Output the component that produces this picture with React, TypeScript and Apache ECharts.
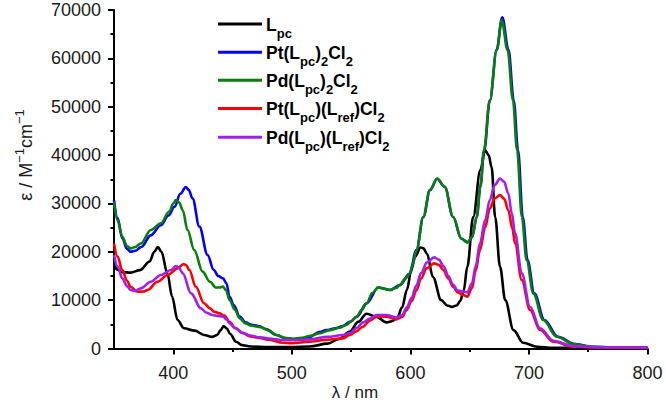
import React, { useEffect, useRef } from "react";
import * as echarts from "echarts";

const FONT = "'Liberation Sans', Arial, Helvetica, sans-serif";

const seriesNames = ["Lpc", "Pt(Lpc)2Cl2", "Pd(Lpc)2Cl2", "Pt(Lpc)(Lref)Cl2", "Pd(Lpc)(Lref)Cl2"];
const legendLabels = [
  "{m|L}{s|pc}",
  "{m|Pt(L}{s|pc}{m|)}{s|2}{m|Cl}{s|2}",
  "{m|Pd(L}{s|pc}{m|)}{s|2}{m|Cl}{s|2}",
  "{m|Pt(L}{s|pc}{m|)(L}{s|ref}{m|)Cl}{s|2}",
  "{m|Pd(L}{s|pc}{m|)(L}{s|ref}{m|)Cl}{s|2}",
];
const colors = ["#000000", "#0000ff", "#0b7d0b", "#ff0000", "#a020f0"];

const xMajorTicks = [400, 500, 600, 700, 800];
const xMinorTicks = [450, 550, 650, 750];

// [wavelength nm, epsilon M^-1 cm^-1]
const lpc = [
  [350, 17300], [353, 16300], [357, 15800], [364, 15700], [372, 16200], [380, 18000], [384, 20000],
  [387, 21000], [390, 20000], [395, 15600], [399, 10700], [403.6, 5900], [409, 4200], [418, 3700],
  [426, 2800], [433, 2400], [437, 2800], [440, 3800], [442.5, 4650], [445, 4200], [448, 3000],
  [453, 1400], [458, 700], [465, 400], [480, 300], [500, 300], [515, 400], [530, 1000], [540, 2000],
  [549, 3500], [556, 5500], [563, 7200], [571, 6600], [580, 5400], [585, 5700], [589, 6400],
  [593, 8500], [597, 12100], [601, 16500], [604, 19000], [608.6, 20900], [611, 20700], [614, 19600],
  [619, 14800], [626, 10000], [631, 8900], [635, 8600], [639, 8900], [642, 9800], [645, 12000],
  [648, 16900], [653, 27200], [659, 36900], [663, 41000], [666, 40000], [668.5, 37500],
  [671.5, 27200], [675.6, 16900], [680, 10000], [687, 3800], [695, 1200], [707, 370], [720, 150],
  [750, 100], [800, 80],
];

const ptLpc2 = [
  [350, 30700], [353, 27000], [357, 22800], [361, 20600], [364, 20000], [368, 20200], [373, 21000],
  [381, 23400], [389.5, 25500], [396, 27500], [401, 29300], [406, 32000], [410.6, 33400],
  [413, 32800], [416.3, 31000], [422, 25200], [429, 19300], [434, 16300], [438, 15000],
  [441.9, 14500], [444.8, 13500], [447.5, 10700], [451, 9000], [456, 6600], [461, 5400],
  [466, 4900], [473, 4600], [478, 4000], [487, 2800], [495, 2100], [501, 1900], [508, 2000],
  [515, 2400], [523, 3400], [529, 3800], [537, 4200], [543, 4650], [549, 5500], [555, 6600],
  [563, 9340], [573, 12600], [583, 12100], [591, 13100], [599.5, 15500], [605, 20350],
  [611, 27200], [616.5, 32750], [622.6, 35100], [629, 33400], [636, 27200], [643, 22700],
  [648.5, 22000], [652, 23000], [656, 27200], [659, 33500], [662.3, 41000], [667, 51300],
  [672.8, 61800], [677.5, 68500], [682.8, 61700], [687.2, 51300], [690.8, 41000], [694.8, 27200],
  [698.8, 18300], [704.5, 11400], [713, 5900], [724.5, 2400], [738.5, 930], [752.5, 370],
  [770, 200], [800, 150],
];

const pdLpc2 = [
  [350, 30300], [353, 26500], [357, 23100], [361, 21200], [364, 20700], [368, 21000],
  [372.6, 21700], [381, 24500], [389.5, 25900], [396.6, 28300], [400, 30000], [402.2, 30700],
  [405, 30200], [408, 28600], [412, 24500], [417.7, 20350], [424.7, 15900], [431, 13800],
  [436, 12600], [439, 12600], [442, 12800], [444.5, 12000], [447.5, 10000], [452, 8000],
  [456, 6240], [461, 5200], [466, 4700], [474, 4400], [480, 3800], [487, 2800], [494, 2200],
  [501, 2000], [508, 2200], [515, 2600], [523, 3100], [532, 3800], [540, 4300], [546, 4860],
  [550, 5600], [554.6, 6570], [559, 8000], [563, 9340], [568, 11500], [572.8, 12640],
  [577, 12400], [582.7, 12100], [588, 12500], [591, 13100], [596, 14500], [599.5, 15500],
  [602, 17500], [605.2, 20350], [610.8, 27230], [616.5, 32750], [622.6, 35160], [629, 33430],
  [636, 27230], [643, 22760], [648, 21900], [652, 23000], [656, 27230], [659, 33500], [662, 41000],
  [667, 51340], [672.8, 61670], [677, 67870], [682, 61700], [686.5, 51340], [690, 41000],
  [694, 27230], [698, 18280], [703.7, 11400], [712, 5890], [723.5, 2440], [737.5, 930],
  [751.6, 370], [770, 200], [800, 150],
];

const ptLpcLref = [
  [350, 21700], [353, 19000], [357, 16200], [361, 14000], [364, 12770], [369.8, 11730],
  [375, 11800], [378.3, 12090], [386.7, 13800], [395.2, 15190], [403.6, 16570], [408.7, 17460],
  [411, 17200], [413.5, 16220], [419, 12770], [426, 9340], [431, 8300], [434.6, 7600],
  [439, 7270], [443, 6800], [447.5, 5540], [452, 4300], [458.8, 3140], [465, 2500],
  [472.9, 2200], [480, 1800], [492.6, 1200], [500, 1100], [515, 1400], [530, 1800], [543, 2100],
  [549, 2790], [554, 3500], [560, 4500], [566, 5800], [571.5, 6570], [580, 6570], [588, 6030],
  [593, 6500], [596.8, 7950], [601, 9800], [605.2, 12090], [609, 14500], [613.7, 16570],
  [620, 17600], [624, 17300], [627.8, 16220], [632, 14500], [636, 12770], [640, 11600],
  [644.6, 11050], [648, 10700], [652, 12500], [655, 16000], [658.7, 20350], [663, 25000],
  [667, 28960], [671, 31000], [675.6, 31710], [679, 31000], [682.6, 28610], [686, 24800],
  [688.3, 21730], [693.9, 14150], [700.9, 7950], [709.4, 3820], [720.6, 1400], [737.5, 370],
  [760, 200], [800, 150],
];

const pdLpcLref = [
  [350, 19320], [353, 17000], [357, 14500], [361, 12900], [364, 12090], [368, 11900],
  [372.6, 12440], [381, 13800], [389.5, 15190], [398, 16220], [402.2, 17050], [405, 16600],
  [408, 15540], [415, 11400], [423.3, 8300], [428, 7400], [433, 6920], [437, 6750], [442, 6570],
  [445, 6000], [447.5, 5200], [452, 4200], [458.8, 3270], [465, 2700], [473, 2300], [483, 2000],
  [493, 1750], [503, 1700], [515, 1890], [530, 2400], [543, 2800], [549, 3200], [555, 4300],
  [560, 5400], [566, 6200], [571.5, 6920], [580, 6920], [588, 6400], [593, 6900], [597, 8500],
  [601, 10500], [605, 13000], [609, 15600], [614, 17800], [620, 18840], [624, 18400], [628, 17000],
  [632, 15000], [636, 13200], [640, 12000], [644.6, 11740], [648, 11600], [652, 13500],
  [655, 17000], [658.7, 21730], [663, 26500], [667, 30680], [671, 33800], [675.6, 35160],
  [679, 34500], [682.6, 32060], [685.5, 28000], [688.3, 23800], [693.9, 15540], [700.9, 8640],
  [709.4, 4170], [720.6, 1600], [737.5, 500], [760, 250], [800, 150],
];

const allData = [lpc, ptLpc2, pdLpc2, ptLpcLref, pdLpcLref];

export default function App() {
  const ref = useRef<HTMLDivElement>(null);
  useEffect(() => {
    if (!ref.current) return;
    const chart = echarts.init(ref.current, null, { renderer: "svg" });
    const legendY = [24, 52.3, 80.3, 108.5, 137.3];
    const legendGraphics: any[] = [];
    legendY.forEach((y, i) => {
      legendGraphics.push({
        type: "line",
        shape: { x1: 218, y1: y, x2: 262, y2: y },
        style: { stroke: colors[i], lineWidth: 3 },
        z: 100,
      });
      legendGraphics.push({
        type: "text",
        x: 266,
        y: y + 3.75,
        z: 100,
        style: {
          text: legendLabels[i],
          align: "left",
          verticalAlign: "middle",
          fill: "#000",
          rich: {
            m: { fontFamily: FONT, fontWeight: "bold", fontSize: 17.5, lineHeight: 24, verticalAlign: "top", fill: "#000" },
            s: { fontFamily: FONT, fontWeight: "bold", fontSize: 13, lineHeight: 14, verticalAlign: "bottom", fill: "#000" },
          },
        },
      });
    });

    chart.setOption({
      animation: false,
      backgroundColor: "#ffffff",
      grid: { left: 114, right: 18.5, top: 10, bottom: 59.5, containLabel: false },
      xAxis: [
        {
          type: "value",
          min: 350,
          max: 800,
          splitLine: { show: false },
          axisLine: { show: true, onZero: false, lineStyle: { color: "#000", width: 2 } },
          axisTick: { show: true, customValues: xMajorTicks, length: 6, lineStyle: { color: "#000", width: 2 } },
          axisLabel: {
            show: true,
            customValues: xMajorTicks,
            margin: 15,
            fontFamily: FONT,
            fontSize: 18,
            color: "#1a1a1a",
            formatter: (v: number) => String(v),
          },
        },
        {
          type: "value",
          min: 350,
          max: 800,
          position: "bottom",
          splitLine: { show: false },
          axisLine: { show: false },
          axisTick: { show: true, customValues: xMinorTicks, length: 3.5, lineStyle: { color: "#000", width: 2 } },
          axisLabel: { show: false },
        },
      ],
      yAxis: {
        type: "value",
        min: 0,
        max: 70000,
        interval: 10000,
        splitLine: { show: false },
        axisLine: { show: true, onZero: false, lineStyle: { color: "#000", width: 2 } },
        axisTick: { show: true, length: 6, lineStyle: { color: "#000", width: 2 } },
        minorTick: { show: true, splitNumber: 2, length: 3.5, lineStyle: { color: "#000", width: 2 } },
        axisLabel: {
          margin: 13,
          fontFamily: FONT,
          fontSize: 18,
          color: "#1a1a1a",
          formatter: (v: number) => String(v),
        },
      },
      series: allData.map((d, i) => ({
        name: seriesNames[i],
        type: "line",
        xAxisIndex: 0,
        yAxisIndex: 0,
        data: d,
        showSymbol: false,
        smooth: 0.35,
        smoothMonotone: "x",
        lineStyle: { color: colors[i], width: 2.6 },
        itemStyle: { color: colors[i] },
        z: 2 + i,
      })),
      graphic: [
        ...legendGraphics,
        {
          type: "text",
          x: 355,
          y: 392,
          style: {
            text: "λ / nm",
            align: "center",
            verticalAlign: "middle",
            fontFamily: FONT,
            fontSize: 17,
            fill: "#1a1a1a",
          },
        },
        {
          type: "text",
          x: 24,
          y: 155,
          rotation: Math.PI / 2,
          style: {
            text: "{a|ε / M}{p|−1}{a|cm}{p|−1}",
            align: "center",
            verticalAlign: "middle",
            fill: "#1a1a1a",
            rich: {
              a: { fontFamily: FONT, fontSize: 18, lineHeight: 22, verticalAlign: "bottom", fill: "#1a1a1a" },
              p: { fontFamily: FONT, fontSize: 13, lineHeight: 13, verticalAlign: "top", fill: "#1a1a1a" },
            },
          },
        },
      ],
    });
    return () => chart.dispose();
  }, []);
  return (
    <div
      ref={ref}
      style={{ width: 666, height: 408, position: "absolute", left: 0, top: 0, background: "#fff" }}
    />
  );
}
